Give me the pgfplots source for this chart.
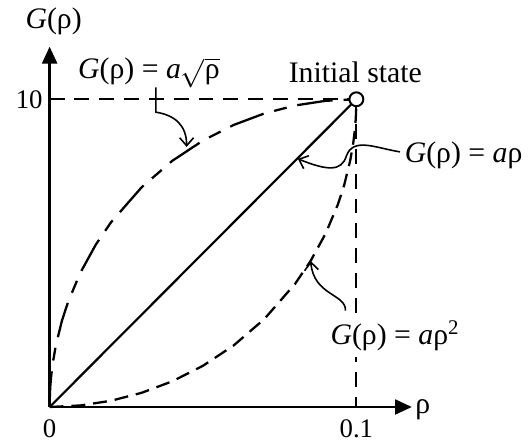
\documentclass[border=0pt]{standalone}
\usepackage{fontspec}
\setmainfont{Liberation Serif}
\usepackage{pgfplots}
\pgfplotsset{compat=1.18}
\usetikzlibrary{arrows.meta}

\begin{document}
\begin{tikzpicture}
\begin{axis}[
  x=1545pt, y=15.5pt,
  xmin=0, xmax=0.1181, ymin=0, ymax=11.71,
  axis lines=left,
  axis line style={line width=1.3pt, -{Triangle[length=8.5pt,width=7.5pt]}},
  xtick={0,0.1}, xticklabels={0,0.1},
  ytick={10}, yticklabels={10},
  major tick length=0pt,
  /pgf/number format/assume math mode=true,
  ticklabel style={font=\fontsize{13.5}{16}\selectfont},
  xticklabel style={yshift=-3pt},
  clip=false,
]
% G = a sqrt(rho): dash-dot
\addplot[line width=1.15pt, dash pattern=on 18pt off 5.5pt on 6.5pt off 5.5pt] coordinates {
  (0,0) (0.0001,0.447) (0.00025,0.707) (0.0005,0.999) (0.001,1.411)
  (0.002,1.990) (0.004,2.800) (0.006,3.412) (0.010,4.359) (0.015,5.268)
  (0.020,6.000) (0.030,7.141) (0.040,8.000) (0.050,8.660) (0.060,9.165)
  (0.070,9.539) (0.080,9.798) (0.090,9.950) (0.100,10)
};
% G = a rho: solid
\addplot[line width=1.1pt] coordinates {(0,0) (0.1,10)};
% G = a rho^2: dashed
\addplot[line width=1.15pt, dash pattern=on 7pt off 4pt] coordinates {
  (0,0) (0.010,0.050) (0.020,0.202) (0.030,0.461) (0.040,0.835)
  (0.050,1.340) (0.060,2.000) (0.070,2.859) (0.080,4.000) (0.085,4.732)
  (0.090,5.641) (0.094,6.588) (0.096,7.200) (0.098,8.010) (0.099,8.589)
  (0.0995,9.001) (0.09975,9.293) (0.0999,9.553) (0.1,10)
};
% guide lines to the initial state
\addplot[line width=0.9pt, dash pattern=on 7.5pt off 5pt] coordinates {(0,10) (0.1,10)};
\addplot[line width=0.9pt, dash pattern=on 7.5pt off 5pt] coordinates {(0.1,10) (0.1,0)};
% initial state
\addplot[only marks, mark=*, mark size=3.5pt, mark options={fill=white, draw=black, line width=1pt}] coordinates {(0.1,10)};
\coordinate (O) at (axis cs:0,0);
\end{axis}

\begin{scope}[shift={(O)}, x=0.5pt, y=-0.5pt, shift={(-50,-410)},
  lab/.style={font=\fontsize{15}{18}\selectfont},
  ann/.style={line width=0.8pt, -{Straight Barb[length=4pt,width=7pt]}}]
  \node[lab] at (54,21) {\textit{G}(ρ)};
  \node[lab, anchor=west, inner sep=0pt] at (418,413) {ρ};
  \node[lab] at (358,73) {Initial state};
  \node[lab] at (150,73) {\textit{G}(ρ) = \textit{a}$\sqrt{\mbox{ρ}}$};
  \node[lab] at (467,156) {\textit{G}(ρ) = \textit{a}ρ};
  \node[lab, fill=white, inner sep=3pt] at (398,338) {\textit{G}(ρ) = \textit{a}ρ\textsuperscript{2}};
  \draw[ann] (157,88) -- (157,113) .. controls (176,116) and (188,126) .. (188,148);
  \draw[ann] (403,153) .. controls (378,149) and (356,138) .. (349,157)
             .. controls (344,173) and (330,172) .. (300,160);
  \draw[ann] (348,313) .. controls (349,296) and (316,298) .. (313,263);
  \path (0,0) rectangle (529,450);
\end{scope}
\end{tikzpicture}
\end{document}
